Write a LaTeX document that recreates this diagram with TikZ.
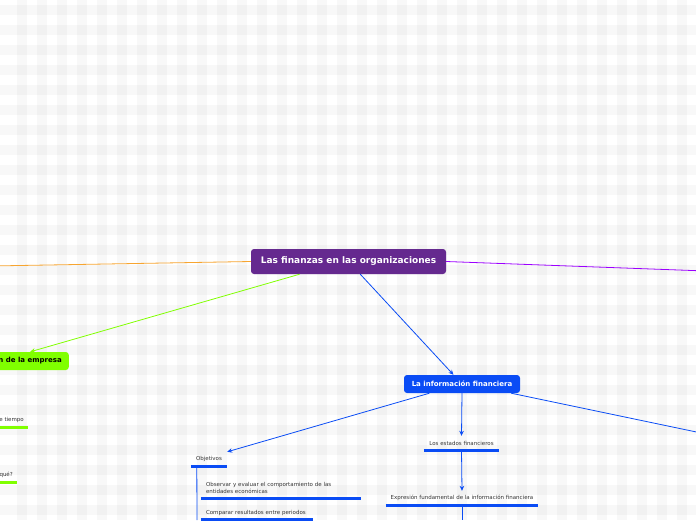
\documentclass[tikz,border=0pt]{standalone}
\usepackage{fontspec}
\setmainfont{DejaVu Sans}
\usepackage{tikz}
\usetikzlibrary{calc,positioning,arrows.meta}
\definecolor{finpurple}{HTML}{65298F}
\definecolor{finblue}{HTML}{0A4CF5}
\definecolor{fingreen}{HTML}{80FF00}
\definecolor{finorange}{HTML}{F7A530}
\definecolor{finviolet}{HTML}{9C00FF}
\definecolor{fintext}{HTML}{333333}
\tikzset{
  fintop/.style={rounded corners=3pt, text=white, inner sep=0pt,
                 font=\fontsize{9}{11}\selectfont\bfseries,
                 minimum width=195pt, minimum height=25pt},
  finmain/.style={rounded corners=3pt, inner sep=0pt,
                  font=\fontsize{7}{8.5}\selectfont\bfseries, minimum height=18pt},
  finsub/.style={font=\fontsize{5.5}{6.3}\selectfont, text=fintext,
                 inner xsep=5pt, inner ysep=0pt},
  finln/.style={line width=0.8pt},
  finarr/.style={finln, -{Stealth[length=5pt,width=4.5pt]}},
  finul/.style={line width=3pt},
  finbg/.style={fill=black, fill opacity=0.028}
}

\begin{document}
\begin{tikzpicture}[x=1pt,y=-1pt]
  \useasboundingbox (0,0) rectangle (696,520);
  % checked background
  \foreach \i in {0,...,34}
    \fill[finbg] (17+20*\i,0) rectangle ++(10,520);
  \foreach \j in {0,...,25}
    \fill[finbg] (0,5+20*\j) rectangle ++(696,10);

  % main topics
  \node[fintop, fill=finpurple] (root) at (348.5,261.5) {Las finanzas en las organizaciones};
  \node[finmain, fill=fingreen, anchor=east, inner xsep=7pt] (grn) at (69,361) {n de la empresa};
  \node[finmain, fill=finblue, text=white, minimum width=116pt] (info) at (462,384) {La información financiera};

  % subtopics
  \node[finsub, minimum width=36pt, minimum height=14pt] (obj) at (209,459) {Objetivos};
  \node[finsub, text width=150pt, align=left, minimum height=20pt] (obs) at (281,488)
    {Observar y evaluar el comportamiento de las\\entidades económicas};
  \node[finsub, text width=102pt, align=left, minimum height=12pt] (comp) at (257,513)
    {\hyphenpenalty=10000 Comparar resultados entre periodos};
  \node[finsub, minimum width=75pt, minimum height=14pt] (est) at (461.5,443) {Los estados financieros};
  \node[finsub, minimum width=152pt, minimum height=14pt] (expr) at (462,498)
    {Expresión fundamental de la información financiera};
  \node[finsub, anchor=east, inner xsep=4pt, minimum height=14pt] (tiem) at (28,420) {e tiempo};
  \node[finsub, anchor=east, inner xsep=4pt, minimum height=14pt] (que) at (17,475) {qué?};

  % loose ends off the page
  \coordinate (offw) at (-10,266);
  \coordinate (offe) at (706,271);
  \coordinate (offse) at (706,434);
  \coordinate (objend) at (197,520);
  \coordinate (exprend) at (462,520);

  % connectors
  \draw[finln, finorange] (root.west) -- (offw);
  \draw[finln, finviolet] (root.east) -- (offe);
  \draw[finarr, fingreen] ($(root.south west)!0.25!(root.south east)$) -- (grn.north);
  \draw[finarr, finblue] (root) -- (info);
  \draw[finarr, finblue] ($(info.south west)!0.22!(info.south east)$) -- (obj.north east);
  \draw[finarr, finblue] (info.south) -- (est.north);
  \draw[finarr, finblue] (est.south) -- (expr.north);
  \draw[finln, finblue] (info.south east) ++(-9,0) -- (offse);
  \draw[finln, finblue] (expr.south) -- (exprend);
  \draw[finln, finblue] ($(obj.south west)+(6,0)$) -- (objend);

  % underlines
  \foreach \n in {obj,obs,comp,est,expr}
    \draw[finul, finblue] (\n.south west) -- (\n.south east);
  \foreach \n in {tiem,que}
    \draw[finul, fingreen] (\n.south west) -- (\n.south east);
\end{tikzpicture}
\end{document}
